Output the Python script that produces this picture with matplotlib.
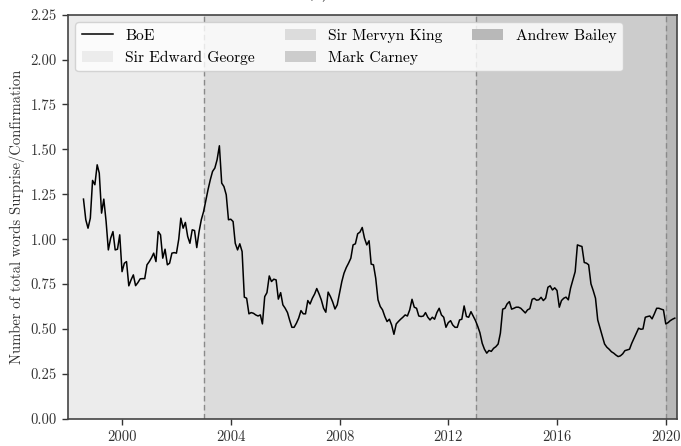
import matplotlib
matplotlib.use("Agg")
import matplotlib.pyplot as plt
import matplotlib.dates as mdates
import pandas as pd

plt.rcParams["font.family"] = "serif"
plt.rcParams["font.serif"] = ["cmr10", "DejaVu Serif"]
plt.rcParams["mathtext.fontset"] = "cm"
plt.rcParams["axes.formatter.use_mathtext"] = True
plt.rcParams["font.size"] = 10.5

# Monthly surprise/confirmation word counts, Bank of England communications
start_month = "1998-08-01"
boe_values = [
    1.223, 1.108, 1.061, 1.117, 1.327, 1.303, 1.414, 1.368, 1.145, 1.223,
    1.098, 0.940, 1.005, 1.042, 0.940, 0.944, 1.024, 0.819, 0.866, 0.875,
    0.740, 0.773, 0.801, 0.741, 0.758, 0.779, 0.780, 0.780, 0.857, 0.875, 0.897,
    0.922, 0.875, 1.042, 1.024, 0.894, 0.944, 0.857, 0.866, 0.922, 0.925,
    0.922, 1.000, 1.117, 1.061, 1.093, 1.015, 0.977, 1.052, 1.048, 0.953,
    1.042, 1.108, 1.154, 1.219, 1.275, 1.331, 1.377, 1.396, 1.442, 1.520,
    1.312, 1.293, 1.247, 1.108, 1.111, 1.098, 0.977, 0.940, 0.974, 0.931,
    0.677, 0.671, 0.584, 0.591, 0.587, 0.578, 0.572, 0.578, 0.528, 0.680,
    0.702, 0.795, 0.764, 0.777, 0.773, 0.666, 0.702, 0.634, 0.615, 0.591,
    0.550, 0.509, 0.509, 0.532, 0.560, 0.602, 0.584, 0.584, 0.658, 0.639,
    0.671, 0.695, 0.725, 0.695, 0.662, 0.615, 0.593, 0.705, 0.680, 0.650,
    0.611, 0.634, 0.699, 0.764, 0.810, 0.842, 0.866, 0.894, 0.968, 0.974,
    1.030, 1.039, 1.065, 1.006, 0.968, 0.991, 0.861, 0.857, 0.783, 0.662,
    0.625, 0.606, 0.569, 0.541, 0.554, 0.522, 0.470, 0.528, 0.541, 0.554,
    0.565, 0.578, 0.572, 0.606, 0.665, 0.621, 0.615, 0.572, 0.569, 0.572,
    0.591, 0.565, 0.550, 0.565, 0.554, 0.591, 0.615, 0.578, 0.565, 0.509,
    0.535, 0.546, 0.522, 0.509, 0.509, 0.550, 0.554, 0.628, 0.569, 0.565,
    0.596, 0.572, 0.546, 0.513, 0.479, 0.420, 0.387, 0.365, 0.380, 0.375,
    0.392, 0.401, 0.416, 0.476, 0.610, 0.615, 0.639, 0.652, 0.610, 0.615,
    0.621, 0.621, 0.615, 0.602, 0.589, 0.606, 0.613, 0.665, 0.670, 0.660,
    0.662, 0.676, 0.658, 0.671, 0.732, 0.740, 0.717, 0.729, 0.714, 0.621,
    0.658, 0.671, 0.677, 0.662, 0.727, 0.773, 0.819, 0.968, 0.963, 0.959,
    0.870, 0.866, 0.857, 0.751, 0.714, 0.671, 0.550, 0.504, 0.459, 0.416,
    0.398, 0.387, 0.373, 0.365, 0.355, 0.346, 0.350, 0.361, 0.379, 0.383,
    0.387, 0.420, 0.448, 0.476, 0.504, 0.498, 0.500, 0.565, 0.569, 0.572,
    0.556, 0.584, 0.615, 0.615, 0.610, 0.606, 0.528, 0.535, 0.546, 0.554,
    0.560,
]

# Governor tenures
governors = ["Sir Edward George", "Sir Mervyn King", "Mark Carney", "Andrew Bailey"]
tenure_starts = ["1998-01-01", "2003-01-01", "2013-01-01", "2020-01-01"]
tenure_colors = ["#ececec", "#dcdcdc", "#cccccc", "#b8b8b8"]
axis_end = "2020-05-27"

y_ticks = [0.00, 0.25, 0.50, 0.75, 1.00, 1.25, 1.50, 1.75, 2.00, 2.25]

dates = pd.date_range(start_month, periods=len(boe_values), freq="MS")
starts = pd.to_datetime(tenure_starts)
ends = list(starts[1:]) + [pd.Timestamp(axis_end)]

fig = plt.figure(figsize=(6.81, 4.46), dpi=100)
ax = fig.add_axes([67.7 / 681, 1 - 418.7 / 446, 609 / 681, 404 / 446])

for name, s, e, c in zip(governors, starts, ends, tenure_colors):
    ax.axvspan(s, e, color=c, lw=0, label=name, zorder=0)
for s in starts[1:]:
    ax.axvline(s, color="#8a8a8a", lw=1.0, ls=(0, (4, 2.5)), zorder=1)

ax.plot(dates, boe_values, color="black", lw=1.1, label="BoE", zorder=3)

ax.set_xlim(starts[0], pd.Timestamp(axis_end))
ax.set_ylim(0, 2.25)
ax.set_yticks(y_ticks)
ax.yaxis.set_major_formatter(matplotlib.ticker.FormatStrFormatter("%.2f"))
ax.xaxis.set_major_locator(mdates.YearLocator(4))
ax.xaxis.set_major_formatter(mdates.DateFormatter("%Y"))

ax.set_ylabel("Number of total words Surprise/Confirmation", color="#333333")
ax.tick_params(colors="#333333", length=4.5, width=1.0, labelsize=10.5)
for sp in ax.spines.values():
    sp.set_color("#444444")
    sp.set_linewidth(1.2)

handles, labels = ax.get_legend_handles_labels()
order = [labels.index(l) for l in ["BoE"] + governors]
ax.legend([handles[i] for i in order], [labels[i] for i in order],
          loc="upper left", ncol=3, fontsize=11.2, frameon=True,
          columnspacing=1.9, bbox_to_anchor=(0.0, 1.0))

fig.text(317 / 681, 1 + 2.5 / 446, "(b)", ha="center", va="baseline", fontsize=12)

fig.savefig("out.png", dpi=100)
